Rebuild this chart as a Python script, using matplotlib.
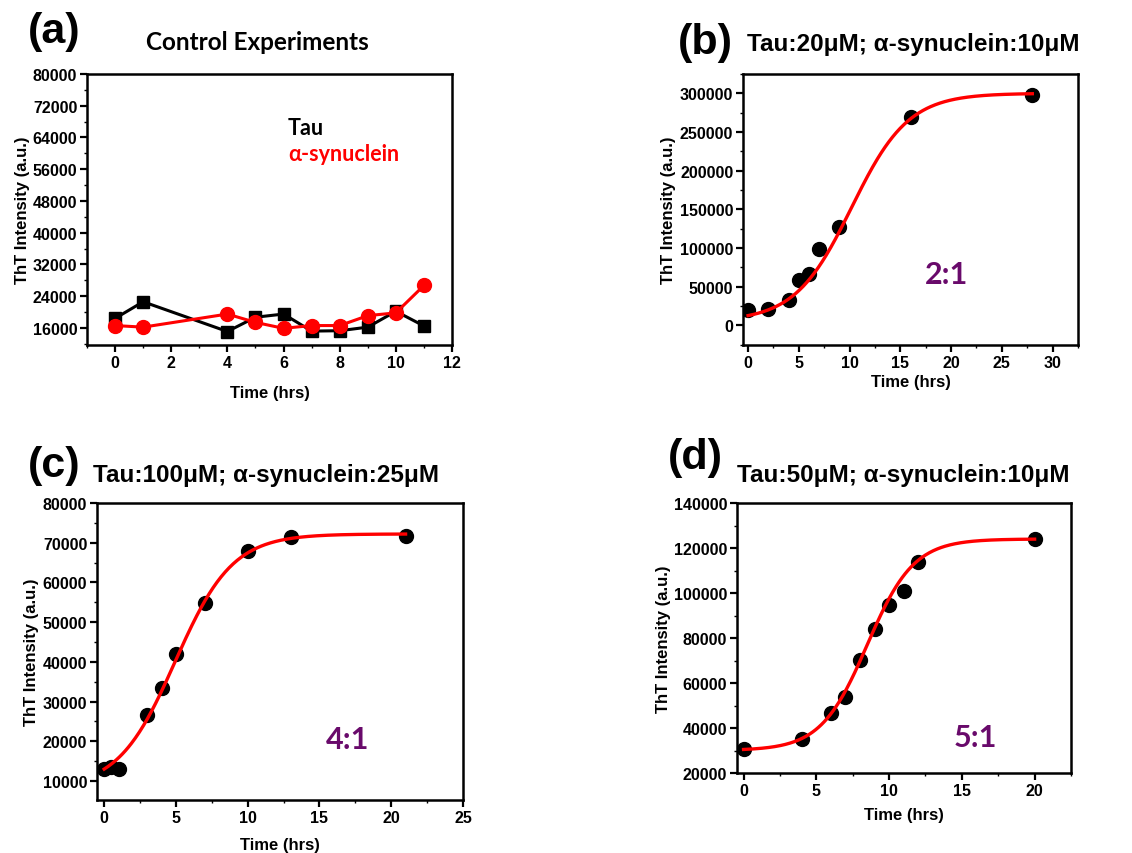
import numpy as np
import matplotlib
matplotlib.use("Agg")
import matplotlib.pyplot as plt
from matplotlib.ticker import MultipleLocator

# ---------------- data ----------------
# (a) control experiments
time_a = [0, 1, 4, 5, 6, 7, 8, 9, 10, 11]
tau_a = [18400, 22600, 15100, 18700, 19500, 15200, 15300, 16200, 20200, 16500]
syn_a = [16600, 16200, 19500, 17400, 15900, 16600, 16600, 19100, 19800, 26700]

# (b) Tau:20uM; a-syn:10uM  (2:1)
time_b = [0, 2, 4, 5, 6, 7, 9, 16, 28]
tht_b = [19400, 21600, 32400, 58300, 66900, 99300, 126500, 269000, 298400]
fit_b = [5000, 300000, 10.2, 2.8]      # Boltzmann A1, A2, x0, dx

# (c) Tau:100uM; a-syn:25uM  (4:1)
time_c = [0, 0.5, 1, 3, 4, 5, 7, 10, 13, 21]
tht_c = [13100, 13600, 12900, 26600, 33500, 41900, 54800, 68000, 71500, 71600]
fit_c = [8000, 72200, 4.95, 2.0]

# (d) Tau:50uM; a-syn:10uM  (5:1)
time_d = [0, 4, 6, 7, 8, 9, 10, 11, 12, 20]
tht_d = [30800, 34900, 46800, 53600, 70400, 84000, 94700, 100900, 113900, 124000]
fit_d = [30000, 124000, 8.5, 1.6]

yticks_a = list(range(16000, 80001, 8000))
yticks_b = list(range(0, 300001, 50000))
yticks_c = list(range(10000, 80001, 10000))
yticks_d = list(range(20000, 140001, 20000))


def boltzmann(x, p):
    a1, a2, x0, dx = p
    return a2 + (a1 - a2) / (1 + np.exp((x - x0) / dx))


W, H = 1132, 854
fig = plt.figure(figsize=(W / 100, H / 100), dpi=100)

ARIAL = "Liberation Sans"
CAL = "Lato"
PURPLE = "#690a6b"


def make_ax(l, r, t, b):
    return fig.add_axes([l / W, 1 - b / H, (r - l) / W, (b - t) / H])


def style(ax, xlim, ylim, xmaj, xmin, yticks, ymin_step, xpad=4, ypad=3):
    ax.set_xlim(*xlim)
    ax.set_ylim(*ylim)
    ax.xaxis.set_major_locator(MultipleLocator(xmaj))
    ax.xaxis.set_minor_locator(MultipleLocator(xmin))
    ax.set_yticks(yticks)
    ax.yaxis.set_minor_locator(MultipleLocator(ymin_step))
    for s in ax.spines.values():
        s.set_linewidth(1.8)
    ax.tick_params(which="major", direction="out", length=5, width=1.6,
                   labelsize=11.5, pad=2)
    ax.tick_params(which="minor", direction="out", length=2.5, width=1.0)
    for lab in ax.get_xticklabels() + ax.get_yticklabels():
        lab.set_fontfamily(ARIAL)
        lab.set_fontweight("bold")
    ax.set_xlabel("Time (hrs)", fontfamily=ARIAL, fontweight="bold",
                  fontsize=12, labelpad=xpad)
    ax.set_ylabel("ThT Intensity (a.u.)", fontfamily=ARIAL, fontweight="bold",
                  fontsize=12, labelpad=ypad)


def fit_panel(ax, t, y, p):
    xs = np.linspace(min(t), max(t), 300)
    ax.plot(t, y, "o", color="black", markersize=10, zorder=2)
    ax.plot(xs, boltzmann(xs, p), color="red", lw=2.4, zorder=3)


def ratio(x, y, s):
    fig.text(x / W, 1 - y / H, s, color=PURPLE, fontfamily=CAL,
             fontweight="bold", fontsize=22, ha="center", va="center")


# ---- (a)
ax = make_ax(87, 452, 75, 346)
ax.plot(time_a, tau_a, "-s", color="black", lw=2.2, markersize=8.5, zorder=2)
ax.plot(time_a, syn_a, "-o", color="red", lw=2.2, markersize=10, zorder=3)
style(ax, (-1, 12), (11700, 80000), 2, 1, yticks_a, 4000, xpad=11, ypad=2)
ax.text(0.551, 0.804, "Tau", transform=ax.transAxes, color="black",
        fontfamily=CAL, fontweight="bold", fontsize=15.5, va="center")
ax.text(0.551, 0.705, "α-synuclein", transform=ax.transAxes, color="red",
        fontfamily=CAL, fontweight="bold", fontsize=15.5, va="center")

# ---- (b)
ax = make_ax(743, 1078, 75, 346)
fit_panel(ax, time_b, tht_b, fit_b)
style(ax, (-0.5, 32.5), (-25500, 325000), 5, 2.5, yticks_b, 25000, xpad=3, ypad=3)
ratio(947, 275, "2:1")

# ---- (c)
ax = make_ax(97, 463, 504, 801)
fit_panel(ax, time_c, tht_c, fit_c)
style(ax, (-0.5, 25), (5200, 80000), 5, 2.5, yticks_c, 5000, xpad=9, ypad=3)
ratio(348, 740, "4:1")

# ---- (d)
ax = make_ax(737, 1071, 504, 774)
fit_panel(ax, time_d, tht_d, fit_d)
style(ax, (-0.45, 22.5), (20000, 140000), 5, 2.5, yticks_d, 10000, xpad=7, ypad=2)
ratio(975, 738, "5:1")


# ---- panel letters and titles
def ftext(x, y, s, **kw):
    fig.text(x / W, 1 - y / H, s, **kw)


letter_kw = dict(fontfamily=ARIAL, fontweight="bold", fontsize=31, va="center", ha="left")
ftext(28, 32, "(a)", **letter_kw)
ftext(678, 43, "(b)", **letter_kw)
ftext(28, 466, "(c)", **letter_kw)
ftext(668, 458, "(d)", **letter_kw)

ftext(257, 42, "Control Experiments", fontfamily=CAL, fontweight="bold",
      fontsize=17.5, ha="center", va="center")
title_kw = dict(fontfamily=ARIAL, fontweight="bold", fontsize=17.5, va="center", ha="left")
ftext(747, 44, "Tau:20μM; α-synuclein:10μM", **title_kw)
ftext(93, 476, "Tau:100μM; α-synuclein:25μM", **title_kw)
ftext(737, 476, "Tau:50μM; α-synuclein:10μM", **title_kw)

fig.savefig("out.png", dpi=100, facecolor="white")
